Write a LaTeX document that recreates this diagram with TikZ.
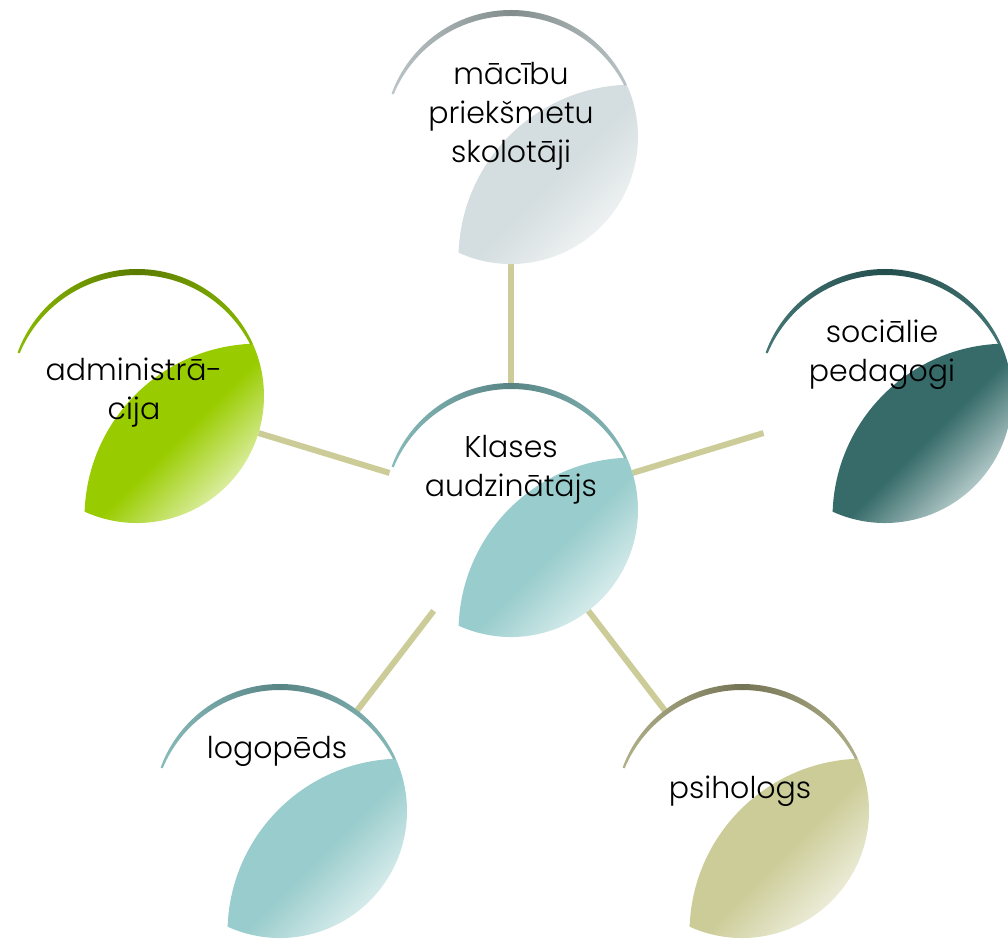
\documentclass[tikz,border=0pt]{standalone}
\usepackage{fontspec}
\setmainfont{Poppins Light}
\usetikzlibrary{calc}
\definecolor{connC}{RGB}{204,204,153}
% center / logoped (teal)
\definecolor{tealBase}{RGB}{153,204,204}
\definecolor{tealLight}{RGB}{236,246,246}
\definecolor{tealDark}{RGB}{88,132,132}
\definecolor{tealCres}{RGB}{140,190,190}
% top (grey)
\definecolor{greyBase}{RGB}{212,221,223}
\definecolor{greyLight}{RGB}{246,248,248}
\definecolor{greyDark}{RGB}{130,140,140}
\definecolor{greyCres}{RGB}{190,200,202}
% right (dark teal)
\definecolor{dtBase}{RGB}{54,107,105}
\definecolor{dtLight}{RGB}{220,232,232}
\definecolor{dtDark}{RGB}{36,78,78}
\definecolor{dtCres}{RGB}{70,120,118}
% left (green)
\definecolor{grBase}{RGB}{153,204,0}
\definecolor{grLight}{RGB}{242,249,215}
\definecolor{grDark}{RGB}{90,122,0}
\definecolor{grCres}{RGB}{140,190,0}
% bottom right (khaki)
\definecolor{khBase}{RGB}{204,204,153}
\definecolor{khLight}{RGB}{247,247,238}
\definecolor{khDark}{RGB}{116,116,86}
\definecolor{khCres}{RGB}{180,180,140}

\newcommand\MkLeafShade[3]{%
  \pgfdeclareverticalshading{#1}{100bp}{color(0bp)=(#3); color(26bp)=(#3); color(50bp)=(#2); color(100bp)=(#2)}}
\MkLeafShade{shTeal}{tealBase}{tealLight}
\MkLeafShade{shGrey}{greyBase}{greyLight}
\MkLeafShade{shDT}{dtBase}{dtLight}
\MkLeafShade{shGr}{grBase}{grLight}
\MkLeafShade{shKh}{khBase}{khLight}

\newcommand\DrawLeaf[4]{%
  \shade[shading=#2, shading angle=45]
    ($(#1.center)+(-114.3:127)$) arc[start angle=-114.3, end angle=24.3, radius=127]
    arc[start angle=91.9, end angle=178.1, radius=174] -- cycle;
  \begin{scope}
    \clip ($(#1.center)+(24.3:300)$) -- ($(#1.center)+(90:300)$) -- ($(#1.center)+(160:300)$) -- (#1.center) -- cycle;
    \shade[even odd rule, left color=#4, right color=#4, middle color=#3]
      (#1.center) circle[radius=127] ($(#1.center)+(0,-6)$) circle[radius=127];
  \end{scope}}

\begin{document}
\begin{tikzpicture}[x=1pt,y=1pt,
  hub/.style={circle, minimum size=254pt, inner sep=0pt, outer sep=0pt},
  conn/.style={draw=connC, line width=6pt},
  lbl/.style={align=center, font=\fontsize{30}{39}\selectfont, text=black, inner sep=0pt}]
\useasboundingbox (0,0) rectangle (1008,938);
\node[hub] (C) at (511,428) {};
\node[hub] (T) at (511,801) {};
\node[hub] (L) at (137,542) {};
\node[hub] (R) at (885,542) {};
\node[hub] (BL) at (280,127) {};
\node[hub] (BR) at (742,127) {};

\draw[conn] (C) -- (T);
\draw[conn] (C) -- (L);
\draw[conn] (C) -- (R);
\draw[conn] (C) -- (BL);
\draw[conn] (C) -- (BR);

\DrawLeaf{C}{shTeal}{tealDark}{tealCres}
\DrawLeaf{T}{shGrey}{greyDark}{greyCres}
\DrawLeaf{L}{shGr}{grDark}{grCres}
\DrawLeaf{R}{shDT}{dtDark}{dtCres}
\DrawLeaf{BL}{shTeal}{tealDark}{tealCres}
\DrawLeaf{BR}{shKh}{khDark}{khCres}

\node[lbl] (tC) at (511,468) {Klases\\audzinātājs};
\node[lbl] (tT) at (511,822) {mācību\\priekšmetu\\skolotāji};
\node[lbl] (tL) at (134,545) {administrā-\\cija};
\node[lbl] (tR) at (882,583) {sociālie\\pedagogi};
\node[lbl] (tBL) at (277,187) {logopēds};
\node[lbl] (tBR) at (740,147) {psihologs};
\end{tikzpicture}
\end{document}
